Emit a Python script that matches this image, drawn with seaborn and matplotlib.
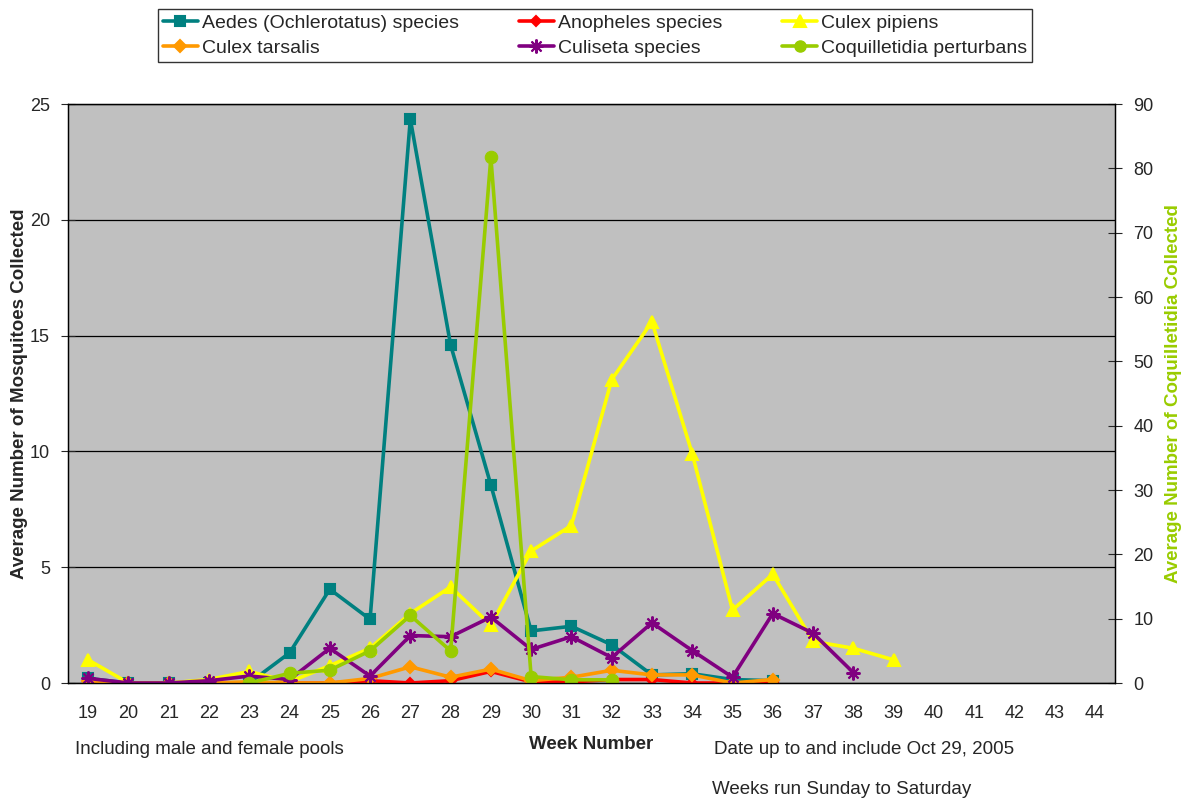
import numpy as np
import pandas as pd
import seaborn as sns
import matplotlib.pyplot as plt
from matplotlib.lines import Line2D

weeks = list(range(19, 45))
nan = np.nan

# average counts per trap, weeks 19..44 (nan = no data)
aedes = [0.2, 0, 0, 0, 0, 1.3, 4.05, 2.75, 24.35, 14.6, 8.55, 2.25, 2.45, 1.65,
         0.35, 0.4, 0.15, 0.1] + [nan] * 8
anopheles = [0.1, 0, 0, 0, 0, 0, 0, 0.1, 0, 0.1, 0.5, 0.05, 0.05, 0.15,
             0.15, 0, 0, 0.05] + [nan] * 8
pipiens = [1.0, 0, 0, 0.15, 0.5, 0.05, 0.75, 1.5, 3.0, 4.15, 2.5, 5.7, 6.8, 13.1,
           15.6, 9.9, 3.15, 4.7, 1.8, 1.5, 1.0] + [nan] * 5
tarsalis = [0.1, 0, 0, 0, 0.05, 0, 0, 0.2, 0.7, 0.25, 0.6, 0.1, 0.25, 0.55,
            0.35, 0.35, 0.0, 0.15] + [nan] * 8
culiseta = [0.2, 0, 0, 0.1, 0.3, 0.15, 1.5, 0.3, 2.05, 2.0, 2.85, 1.45, 2.0, 1.1,
            2.6, 1.4, 0.25, 3.0, 2.15, 0.45] + [nan] * 6
# secondary axis
coquilletidia = [nan] * 4 + [0, 1.5, 2.0, 5.0, 10.5, 5.0, 81.7, 1.0, 0.5, 0.5] + [nan] * 12

series = [
    ("Aedes (Ochlerotatus) species", aedes, "#008080", "s", 7.5),
    ("Anopheles species", anopheles, "#FF0000", "D", 5),
    ("Culex pipiens", pipiens, "#FFFF00", "^", 8.5),
    ("Culex tarsalis", tarsalis, "#FF9900", "D", 6),
    ("Culiseta species", culiseta, "#800080", (8, 2, 0), 10),
]
coq_color = "#99CC00"

sns.set_style("white")
plt.rcParams['font.family'] = ['Liberation Sans', 'DejaVu Sans']

fig = plt.figure(figsize=(11.85, 8.01), dpi=100)
ax = fig.add_axes([0.0574, 0.1473, 0.8836, 0.7228])
ax.set_facecolor("#C0C0C0")

handles = {}
for name, vals, color, marker, ms in series:
    df = pd.DataFrame({"week": weeks, "value": vals}).dropna()
    sns.lineplot(data=df, x="week", y="value", ax=ax, color=color, lw=2.6,
                 marker=marker, markersize=ms, markeredgecolor=color,
                 markeredgewidth=1.5, zorder=3)
    handles[name] = Line2D([], [], color=color, lw=2.6, marker=marker,
                           markersize=ms, markeredgecolor=color, markeredgewidth=1.5)

ax2 = ax.twinx()
df = pd.DataFrame({"week": weeks, "value": coquilletidia}).dropna()
sns.lineplot(data=df, x="week", y="value", ax=ax2, color=coq_color, lw=2.6,
             marker="o", markersize=9, markeredgecolor=coq_color)
handles["Coquilletidia perturbans"] = Line2D([], [], color=coq_color, lw=2.6,
                                             marker="o", markersize=8,
                                             markeredgecolor=coq_color)

ax.set_xlim(18.5, 44.5)
ax.set_ylim(0, 25)
ax2.set_ylim(0, 90)
ax.set_yticks(range(0, 26, 5))
ax2.set_yticks(range(0, 91, 10))
ax.set_xticks(weeks)
ax.set_xticks(np.arange(18.5, 45, 1), minor=True)
ax.tick_params(axis="x", which="major", length=0, labelsize=13, pad=16)
ax.tick_params(axis="x", which="minor", length=8, direction="inout", color="black")
ax.tick_params(axis="y", length=10, direction="inout", labelsize=13, left=True, pad=8)
ax2.tick_params(axis="y", length=10, direction="inout", labelsize=13, right=True, pad=8)
ax.yaxis.grid(True, color="black", lw=0.9)
ax.set_axisbelow(True)
for a in (ax, ax2):
    for s in a.spines.values():
        s.set_color("black")
        s.set_linewidth(0.9)

ax.set_xlabel("Week Number", fontsize=13.5, fontweight="bold", labelpad=10)
ax.set_ylabel("Average Number of Mosquitoes Collected", fontsize=13.5,
              fontweight="bold", labelpad=1)
ax2.set_ylabel("Average Number of Coquilletidia Collected", fontsize=13.5,
               fontweight="bold", color=coq_color, labelpad=8)

order = ["Aedes (Ochlerotatus) species", "Culex tarsalis", "Anopheles species",
         "Culiseta species", "Culex pipiens", "Coquilletidia perturbans"]
leg = fig.legend([handles[n] for n in order], order, ncol=3, loc="lower left",
                 mode="expand",
                 bbox_to_anchor=(158 / 1185, 1 - 62 / 801, 874 / 1185, 57 / 801),
                 fontsize=14, frameon=True, fancybox=False, edgecolor="black",
                 handlelength=1.8, handletextpad=0.2, borderpad=0.25,
                 labelspacing=0.4, borderaxespad=0)
leg.get_frame().set_linewidth(1.0)

fig.text(75 / 1185, 1 - 750 / 801, "Including male and female pools",
         fontsize=13.5, va="center")
fig.text(714 / 1185, 1 - 750 / 801, "Date up to and include Oct 29, 2005",
         fontsize=13.5, va="center")
fig.text(712 / 1185, 1 - 790 / 801, "Weeks run Sunday to Saturday",
         fontsize=13.5, va="center")

fig.savefig("out.png", dpi=100)
